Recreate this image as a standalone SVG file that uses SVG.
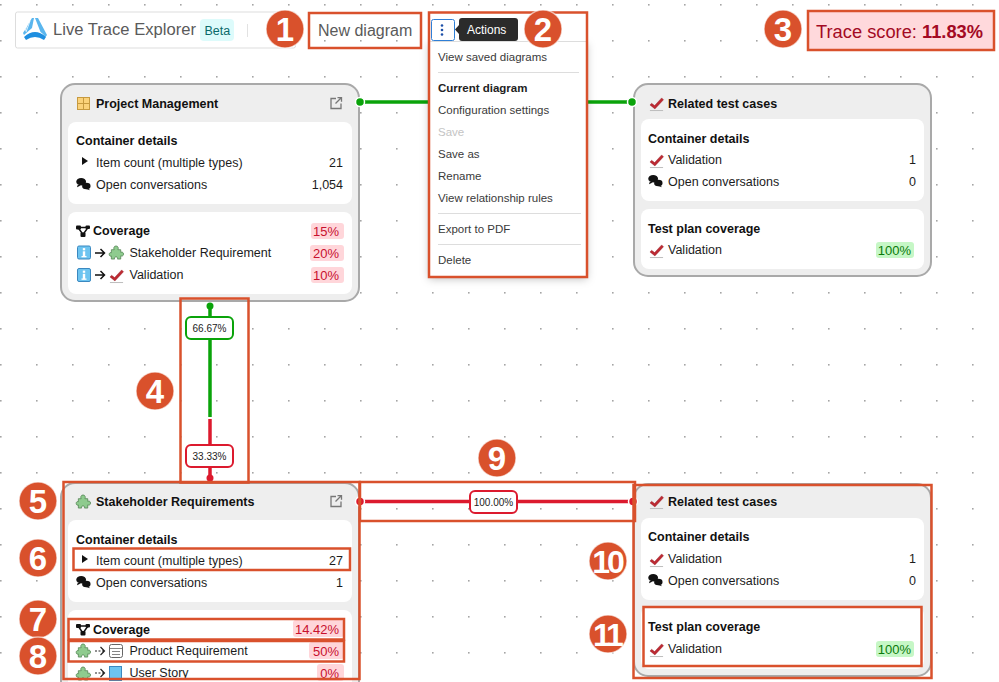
<svg xmlns="http://www.w3.org/2000/svg" width="999" height="682" viewBox="0 0 999 682">
<style>
text{font-family:"Liberation Sans",Arial,sans-serif;font-size:12.5px;fill:#1c1c1c}
.b{font-weight:700;fill:#111}
.r{text-anchor:end}
.card{fill:#eeeeee;stroke:#a9a9a9;stroke-width:2}
.in{fill:#fff}
.ann{fill:none;stroke:#d9512c;stroke-width:2.5}
.num{fill:#d9512c;stroke:#fff;stroke-opacity:.6;stroke-width:1.5}
.n{fill:#fff;font-size:33px;font-weight:700;text-anchor:middle}
.n2{fill:#fff;font-size:32px;font-weight:700;text-anchor:middle;letter-spacing:-3px}
.bad{fill:#ffd6da}
.bt{fill:#c8102e;font-size:13px;text-anchor:end}
.gbad{fill:#c6f7c6}
.gt{fill:#0a7a0a;font-size:13px;text-anchor:end}
.m{fill:#3a3a3a;font-size:11.5px}
.div{stroke:#ddd;stroke-width:1}
.lab{fill:#fff;stroke-width:2}
.lt{font-size:10px;fill:#222;text-anchor:middle}
.g{stroke:#0aa30a;fill:none;stroke-width:3.5}
.rd{stroke:#dc1a2e;fill:none;stroke-width:3.5}
.gd{fill:#0aa30a;stroke:#fff;stroke-width:1.5}
.rdd{fill:#dc1a2e;stroke:#fff;stroke-width:1.5}
</style>
<defs>
<pattern id="dots" width="36" height="36" patternUnits="userSpaceOnUse" x="0" y="4">
<rect width="1.6" height="1.6" fill="#a5a5a5"/>
</pattern>
<filter id="sh" x="-20%" y="-20%" width="140%" height="140%"><feDropShadow dx="0" dy="2" stdDeviation="4" flood-color="#000" flood-opacity=".25"/></filter>
<symbol id="check" viewBox="0 0 16 16" overflow="visible">
<path d="M1 9.500l1.800-1.700 3.200 2.400 7.500-8.200 2 2-9.200 9.800z" fill="#bd2a33" stroke="#8c1c24" stroke-width=".4"/><path d="M1 15.500h14" stroke="#b9b9b9" stroke-width="1"/>
</symbol>
<symbol id="puz" viewBox="0 0 16 16" overflow="visible">
<path d="M2.500 5h3c-.8-1.200-.5-4 2-4s2.800 2.800 2 4h3v2.800c1-.5 3-.3 3 1.900s-2 2.400-3 1.900V15H9c.5-1.200 0-2.300-1.500-2.300S5.500 13.800 6 15H2.500v-3.300c-1 .5-2.300 0-2.300-1.700s1.300-2.200 2.300-1.700z" fill="#8ecb8e" stroke="#4f7f4f" stroke-width=".8"/>
</symbol>
<symbol id="chat" viewBox="0 0 16 16" overflow="visible">
<ellipse cx="5.500" cy="5" rx="5.200" ry="4" fill="#111"/><path d="M2 8l-1 3 4-2z" fill="#111"/><ellipse cx="11" cy="9.500" rx="4.500" ry="3.500" fill="#111"/><path d="M13 12l2 2-5-1.500z" fill="#111"/>
</symbol>
<symbol id="cov" viewBox="0 0 14 12" overflow="visible">
<path d="M2 2h10M2 2l5 7M12 2l-5 7" stroke="#111" stroke-width="1.400" fill="none"/><rect x="0" y="0" width="5" height="4" rx="1" fill="#111"/><rect x="9.500" y="0" width="4.500" height="3.500" rx="1" fill="#111"/><rect x="4.500" y="7" width="5" height="4.500" rx="1" fill="#111"/>
</symbol>
<symbol id="info" viewBox="0 0 14 14" overflow="visible">
<rect x=".5" y=".5" width="13" height="13" rx="1.500" fill="#6dc4f0" stroke="#3b88c0"/><rect x="5.800" y="2.600" width="2.400" height="2.200" fill="#fff"/><rect x="5.800" y="5.800" width="2.400" height="5.500" fill="#fff"/><rect x="4.500" y="10.500" width="5" height="1.300" fill="#fff"/>
</symbol>
<symbol id="ext" viewBox="0 0 12 12" overflow="visible">
<path d="M6 1.500H1v10h10V6.500M5.500 6.500L11 1M7.500 .7h4v4" fill="none" stroke="#777" stroke-width="1.300"/>
</symbol>
<symbol id="arr" viewBox="0 0 11 10" overflow="visible">
<path d="M0 5h9M5.500 1l4 4-4 4" fill="none" stroke="#111" stroke-width="1.500"/>
</symbol>
<symbol id="darr" viewBox="0 0 11 10" overflow="visible">
<path d="M0 5h2M3.500 5h2M7 5h2M5.500 1l4 4-4 4" fill="none" stroke="#222" stroke-width="1.200"/>
</symbol>
<path id="caret" d="M0 0l6 4-6 4z" fill="#111"/>
</defs>
<rect width="999" height="682" fill="#fff"/>
<rect width="999" height="682" fill="url(#dots)"/>

<g id="toolbar">
<rect x="15.500" y="12" width="280" height="36" rx="2" fill="#fff" stroke="#ddd"/>
<path d="M35 18h3l9 17-1.500 2q-2-3-5-5z" fill="#5ab6ee"/>
<path d="M32 18l2 0-2 10-8 7-1-2z" fill="#5ab6ee"/>
<path d="M28 22l-3 9M30 21l-4 11" stroke="#fff" stroke-width=".8" fill="none"/>
<path d="M24 37q11-10 22 0l-2 3q-9-6-18 0z" fill="#1f8fe0"/>
<text x="53" y="35" style="font-size:16.600px;fill:#5a5a5a">Live Trace Explorer</text>
<rect x="200" y="19" width="34" height="22" rx="4" fill="#ddfbfb"/>
<text x="204.500" y="35" style="font-size:12.500px;fill:#0a6a6a">Beta</text>
<path d="M247.500 24v13" stroke="#e2e2e2"/>
<text x="318" y="36" style="font-size:16px;fill:#5a5a5a">New diagram</text>
</g>

<g id="score">
<rect x="808" y="11" width="186" height="39" fill="#ffd9dc"/>
<text x="816" y="38" style="font-size:18.300px;fill:#a30a24">Trace score: <tspan font-weight="700">11.83%</tspan></text>
</g>

<g id="node-project-management">
<rect class="card" x="61" y="84" width="298" height="217" rx="14"/>
<rect x="77.500" y="97.500" width="12" height="12" fill="#fbd27a" stroke="#c79a3f"/><path d="M83.500 97.500v12M77.500 103.500h12" stroke="#c79a3f"/>
<text class="b" x="96" y="108">Project Management</text>
<use href="#ext" x="330" y="97" width="12" height="12"/>
<rect class="in" x="68" y="122" width="284" height="82" rx="8"/>
<text class="b" x="76" y="145">Container details</text>
<use href="#caret" x="82" y="157"/><text x="96" y="167">Item count (multiple types)</text><text class="r" x="343" y="167">21</text>
<use href="#chat" x="76" y="177" width="15" height="15"/><text x="96" y="189">Open conversations</text><text class="r" x="343" y="189">1,054</text>
<rect class="in" x="68" y="212" width="284" height="82" rx="8"/>
<use href="#cov" x="76" y="225.500" width="14" height="12"/><text class="b" x="93" y="235">Coverage</text>
<rect class="bad" x="311" y="223" width="33" height="16" rx="3"/><text class="bt" x="339" y="235.500">15%</text>
<use href="#info" x="77" y="245.500" width="14" height="14"/><use href="#arr" x="95" y="248" width="11" height="10"/><use href="#puz" x="109" y="245" width="15" height="15"/>
<text x="129.500" y="257">Stakeholder Requirement</text>
<rect class="bad" x="310" y="245" width="34" height="16" rx="3"/><text class="bt" x="339" y="257.500">20%</text>
<use href="#info" x="77" y="268" width="14" height="14"/><use href="#arr" x="95" y="270" width="11" height="10"/><use href="#check" x="109" y="268" width="15" height="15"/>
<text x="129.500" y="279">Validation</text>
<rect class="bad" x="311" y="267" width="33" height="16" rx="3"/><text class="bt" x="339" y="279.500">10%</text>
</g>

<g id="node-related-test-cases-top">
<rect class="card" x="634" y="84" width="297" height="192" rx="14"/>
<use href="#check" x="649" y="96" width="15" height="15"/>
<text class="b" x="668" y="108">Related test cases</text>
<rect class="in" x="641" y="119" width="283" height="82" rx="8"/>
<text class="b" x="648" y="143">Container details</text>
<use href="#check" x="649" y="153" width="15" height="15"/><text x="668" y="164">Validation</text><text class="r" x="916" y="164">1</text>
<use href="#chat" x="648" y="174" width="15" height="15"/><text x="668" y="186">Open conversations</text><text class="r" x="916" y="186">0</text>
<rect class="in" x="641" y="209" width="283" height="60" rx="8"/>
<text class="b" x="648" y="233">Test plan coverage</text>
<use href="#check" x="649" y="243" width="15" height="15"/><text x="668" y="254">Validation</text>
<rect class="gbad" x="876" y="242" width="38" height="16" rx="3"/><text class="gt" x="911" y="255">100%</text>
</g>

<g id="node-stakeholder-requirements">
<rect class="card" x="61" y="483" width="298" height="217" rx="14"/>
<use href="#puz" x="76" y="494" width="15" height="15"/>
<text class="b" x="96" y="506">Stakeholder Requirements</text>
<use href="#ext" x="330" y="495" width="12" height="12"/>
<rect class="in" x="68" y="520" width="284" height="82" rx="8"/>
<text class="b" x="76" y="544">Container details</text>
<use href="#caret" x="82" y="555"/><text x="96" y="565">Item count (multiple types)</text><text class="r" x="343" y="565">27</text>
<use href="#chat" x="76" y="575" width="15" height="15"/><text x="96" y="587">Open conversations</text><text class="r" x="343" y="587">1</text>
<rect class="in" x="68" y="610" width="284" height="90" rx="8"/>
<use href="#cov" x="76" y="624" width="14" height="12"/><text class="b" x="93" y="634">Coverage</text>
<rect class="bad" x="293" y="620" width="51" height="17" rx="3"/><text class="bt" x="339" y="634">14.42%</text>
<use href="#puz" x="76" y="643" width="15" height="15"/><use href="#darr" x="95" y="646" width="11" height="10"/>
<rect x="109.500" y="644.500" width="13" height="13" rx="2" fill="#fff" stroke="#666"/><path d="M109.500 648.500h13M112 651.500h8M112 654.500h8" stroke="#666" stroke-width=".8" fill="none"/>
<text x="129.500" y="655">Product Requirement</text>
<rect class="bad" x="309" y="642" width="35" height="17" rx="3"/><text class="bt" x="339" y="656">50%</text>
<use href="#puz" x="76" y="666" width="15" height="15"/><use href="#darr" x="95" y="668" width="11" height="10"/>
<rect x="109.500" y="666.500" width="12" height="14" fill="#6dc4f0" stroke="#3b88c0"/>
<text x="129.500" y="677">User Story</text>
<rect class="bad" x="317" y="664" width="27" height="17" rx="3"/><text class="bt" x="339" y="678">0%</text>
</g>

<g id="node-related-test-cases-bottom">
<rect class="card" x="634" y="484" width="297" height="192" rx="14"/>
<use href="#check" x="649" y="494" width="15" height="15"/>
<text class="b" x="668" y="506">Related test cases</text>
<rect class="in" x="641" y="518" width="283" height="82" rx="8"/>
<text class="b" x="648" y="541">Container details</text>
<use href="#check" x="649" y="552" width="15" height="15"/><text x="668" y="563">Validation</text><text class="r" x="916" y="563">1</text>
<use href="#chat" x="648" y="573" width="15" height="15"/><text x="668" y="585">Open conversations</text><text class="r" x="916" y="585">0</text>
<rect class="in" x="641" y="607" width="283" height="62" rx="8"/>
<text class="b" x="648" y="631">Test plan coverage</text>
<use href="#check" x="649" y="642" width="15" height="15"/><text x="668" y="653">Validation</text>
<rect class="gbad" x="876" y="641" width="38" height="16" rx="3"/><text class="gt" x="911" y="654">100%</text>
</g>

<g id="connectors">
<path class="g" d="M360 102H633"/>
<circle class="gd" cx="360" cy="102" r="4.500"/><circle class="gd" cx="632" cy="102" r="4.500"/>
<path class="g" d="M210 306V417"/>
<path class="rd" d="M210 419V478"/>
<circle cx="210" cy="306" r="3.500" fill="#0aa30a"/><circle cx="210" cy="478" r="3.500" fill="#dc1a2e"/>
<rect class="lab" x="186" y="317" width="47" height="22" rx="5" stroke="#0aa30a"/><text class="lt" x="209.500" y="331.500">66.67%</text>
<rect class="lab" x="186" y="445" width="47" height="22" rx="5" stroke="#dc1a2e"/><text class="lt" x="209.500" y="459.500">33.33%</text>
<path class="rd" d="M360 501.500H633"/>
<circle class="rdd" cx="360" cy="501.500" r="4.500"/><circle class="rdd" cx="633" cy="501.500" r="4.500"/>
<rect class="lab" x="470" y="491" width="47" height="22" rx="5" stroke="#dc1a2e"/><text class="lt" x="493.500" y="505.500">100.00%</text>
</g>

<g id="actions-menu">
<rect x="429" y="42" width="158" height="235" fill="#fff" filter="url(#sh)"/>
<rect x="429" y="13" width="158" height="30" fill="#fff"/>
<path d="M429 41.500h158" stroke="#ddd"/>
<rect x="431.500" y="19.500" width="23" height="21" rx="2" fill="#fff" stroke="#2f7fd6"/>
<g fill="#1c4fa8"><circle cx="442" cy="25.500" r="1.300"/><circle cx="442" cy="30" r="1.300"/><circle cx="442" cy="34.500" r="1.300"/></g>
<path d="M459 25l-4 4.500 4 4.500z" fill="#2b2b2b"/>
<rect x="459" y="18" width="59" height="23" rx="3" fill="#2b2b2b"/>
<text x="467" y="34" style="font-size:12px;fill:#fff">Actions</text>
<text class="m" x="438" y="61">View saved diagrams</text>
<path class="div" d="M438 72.500h141"/>
<text class="m" x="438" y="92" font-weight="700" style="fill:#222">Current diagram</text>
<text class="m" x="438" y="114">Configuration settings</text>
<text class="m" x="438" y="136" style="fill:#c4c4c4">Save</text>
<text class="m" x="438" y="158">Save as</text>
<text class="m" x="438" y="180">Rename</text>
<text class="m" x="438" y="202">View relationship rules</text>
<path class="div" d="M438 213.500h143"/>
<text class="m" x="438" y="233">Export to PDF</text>
<path class="div" d="M438 244.500h143"/>
<text class="m" x="438" y="264">Delete</text>
</g>

<g id="annotations">
<rect class="ann" x="309" y="13" width="112" height="35"/>
<rect class="ann" x="429" y="12.500" width="158" height="264.500"/>
<rect class="ann" x="808" y="11" width="186" height="39"/>
<rect class="ann" x="180.500" y="298.500" width="68" height="184"/>
<rect class="ann" x="63.500" y="482" width="296" height="197"/>
<rect class="ann" x="73.500" y="548.500" width="276.500" height="21.500"/>
<rect class="ann" x="68.500" y="619" width="275.500" height="20.500"/>
<rect class="ann" x="68.500" y="641" width="275.500" height="20.500"/>
<rect class="ann" x="360" y="482" width="275" height="39"/>
<rect class="ann" x="633.500" y="485" width="298" height="193"/>
<rect class="ann" x="643.500" y="607" width="278" height="59"/>
<circle class="num" cx="285" cy="29" r="19"/><text class="n" x="285" y="41">1</text>
<circle class="num" cx="543" cy="29" r="19"/><text class="n" x="543" y="41">2</text>
<circle class="num" cx="783" cy="29" r="19"/><text class="n" x="783" y="41">3</text>
<circle class="num" cx="155" cy="391" r="19"/><text class="n" x="155" y="403">4</text>
<circle class="num" cx="38" cy="501" r="19"/><text class="n" x="38" y="513">5</text>
<circle class="num" cx="38" cy="558" r="19"/><text class="n" x="38" y="570">6</text>
<circle class="num" cx="38" cy="619" r="19"/><text class="n" x="38" y="631">7</text>
<circle class="num" cx="38" cy="656" r="19"/><text class="n" x="38" y="668">8</text>
<circle class="num" cx="497" cy="458" r="19"/><text class="n" x="497" y="470">9</text>
<circle class="num" cx="608" cy="561" r="19"/><text class="n2" x="607" y="572.500">10</text>
<circle class="num" cx="608" cy="634" r="19"/><text class="n2" x="607" y="645.500">11</text>
</g>
</svg>
